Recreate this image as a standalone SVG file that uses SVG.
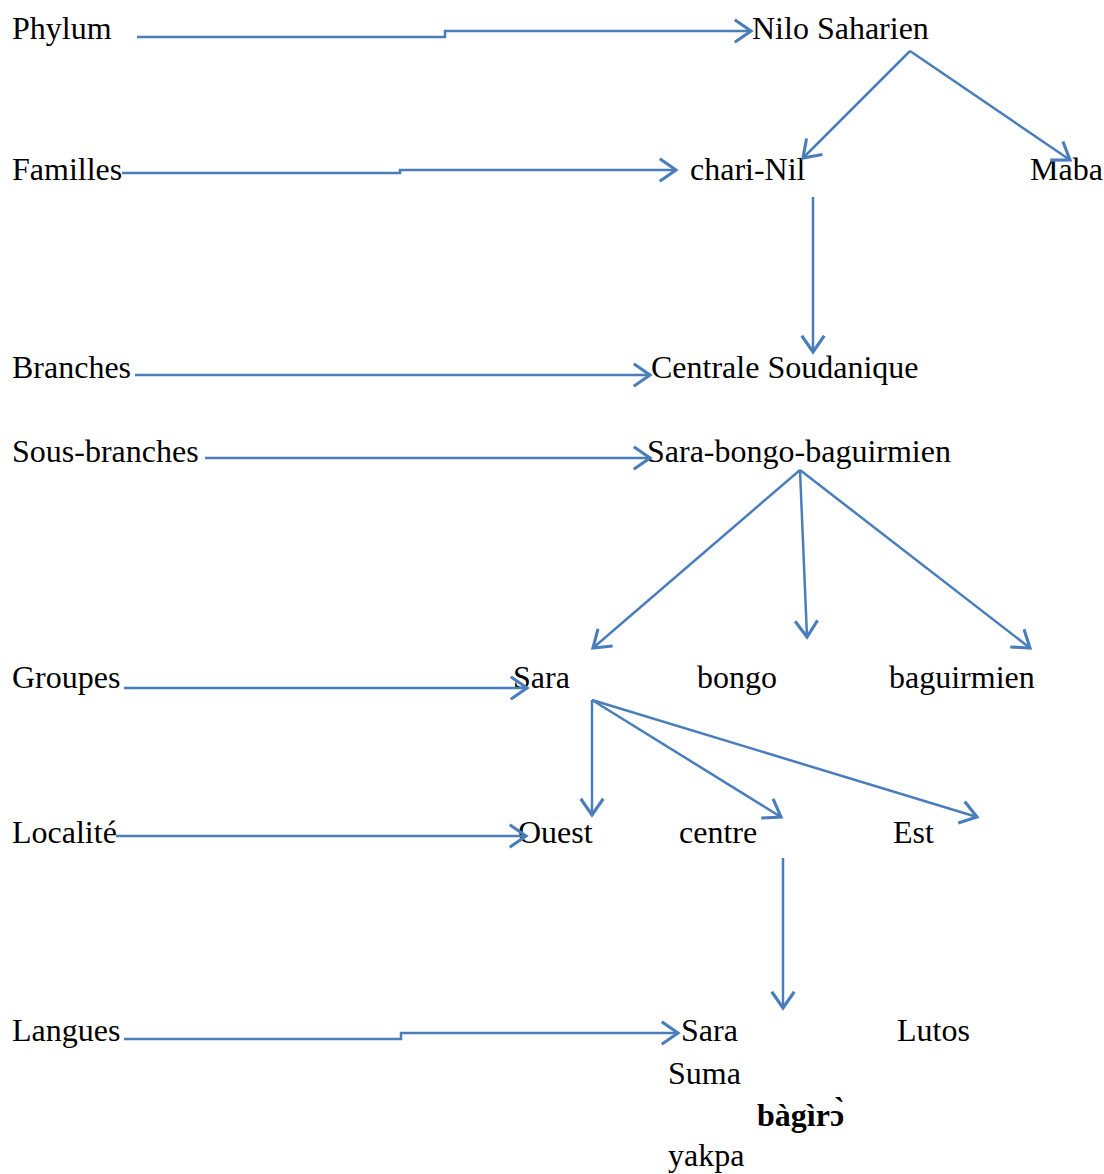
<svg xmlns="http://www.w3.org/2000/svg" width="1104" height="1174" viewBox="0 0 1104 1174">
<style>
text{font-family:"Liberation Serif","Times New Roman",serif;font-size:32px;fill:#000}
.b{font-weight:bold}
.c{fill:none;stroke:#4A7EBB;stroke-width:2.5;marker-end:url(#ah)}
</style>
<defs>
<marker id="ah" markerUnits="userSpaceOnUse" markerWidth="30" markerHeight="30" viewBox="-16 -12 20 24" refX="0" refY="0" orient="auto">
<path d="M-13,-9 L0,0 L-13,9" fill="none" stroke="#4A7EBB" stroke-width="2.5"/>
</marker>
</defs>
<rect width="1104" height="1174" fill="#fff"/>
<g id="labels">
<g id="n-phylum"><text x="12" y="39">Phylum</text></g>
<g id="n-familles"><text x="12" y="180">Familles</text></g>
<g id="n-branches"><text x="12" y="378">Branches</text></g>
<g id="n-sousbranches"><text x="12" y="462">Sous-branches</text></g>
<g id="n-groupes"><text x="12" y="688">Groupes</text></g>
<g id="n-localite"><text x="12" y="843">Localité</text></g>
<g id="n-langues"><text x="12" y="1041">Langues</text></g>
</g>
<g id="n-nilo"><text x="752" y="39">Nilo Saharien</text></g>
<g id="n-charinil"><text x="690" y="180">chari-Nil</text></g>
<g id="n-maba"><text x="1030" y="180">Maba</text></g>
<g id="n-centrale"><text x="651" y="378">Centrale Soudanique</text></g>
<g id="n-sbb"><text x="647" y="462">Sara-bongo-baguirmien</text></g>
<g id="n-sara"><text x="513" y="688">Sara</text></g>
<g id="n-bongo"><text x="697" y="688">bongo</text></g>
<g id="n-baguirmien"><text x="889" y="688">baguirmien</text></g>
<g id="n-ouest"><text x="518" y="843">Ouest</text></g>
<g id="n-centre"><text x="679" y="843">centre</text></g>
<g id="n-est"><text x="893" y="843">Est</text></g>
<g id="n-langsara"><text x="681" y="1041">Sara</text></g>
<g id="n-lutos"><text x="897" y="1041">Lutos</text></g>
<g id="n-suma"><text x="668" y="1084">Suma</text></g>
<g id="n-bagirro"><text class="b" x="757" y="1126">bàgìrɔ̀</text></g>
<g id="n-yakpa"><text x="668" y="1166">yakpa</text></g>
<g id="connectors">
<path class="c" d="M137,37 H445 V31 H751"/>
<path class="c" d="M122,173 H400 V170 H676"/>
<path class="c" d="M910,51 L803,158"/>
<path class="c" d="M910,51 L1070,160"/>
<path class="c" d="M813,197 V352"/>
<path class="c" d="M135,375 H650"/>
<path class="c" d="M205,458 H650"/>
<path class="c" d="M800,470 L593,648"/>
<path class="c" d="M800,470 L807,637"/>
<path class="c" d="M800,470 L1030,648"/>
<path class="c" d="M124,688 H527"/>
<path class="c" d="M592,700 V815"/>
<path class="c" d="M592,700 L781,817"/>
<path class="c" d="M592,700 L977,817"/>
<path class="c" d="M116,836 H526"/>
<path class="c" d="M783,858 V1008"/>
<path class="c" d="M124,1039 H401 V1033 H678"/>
</g>
</svg>
